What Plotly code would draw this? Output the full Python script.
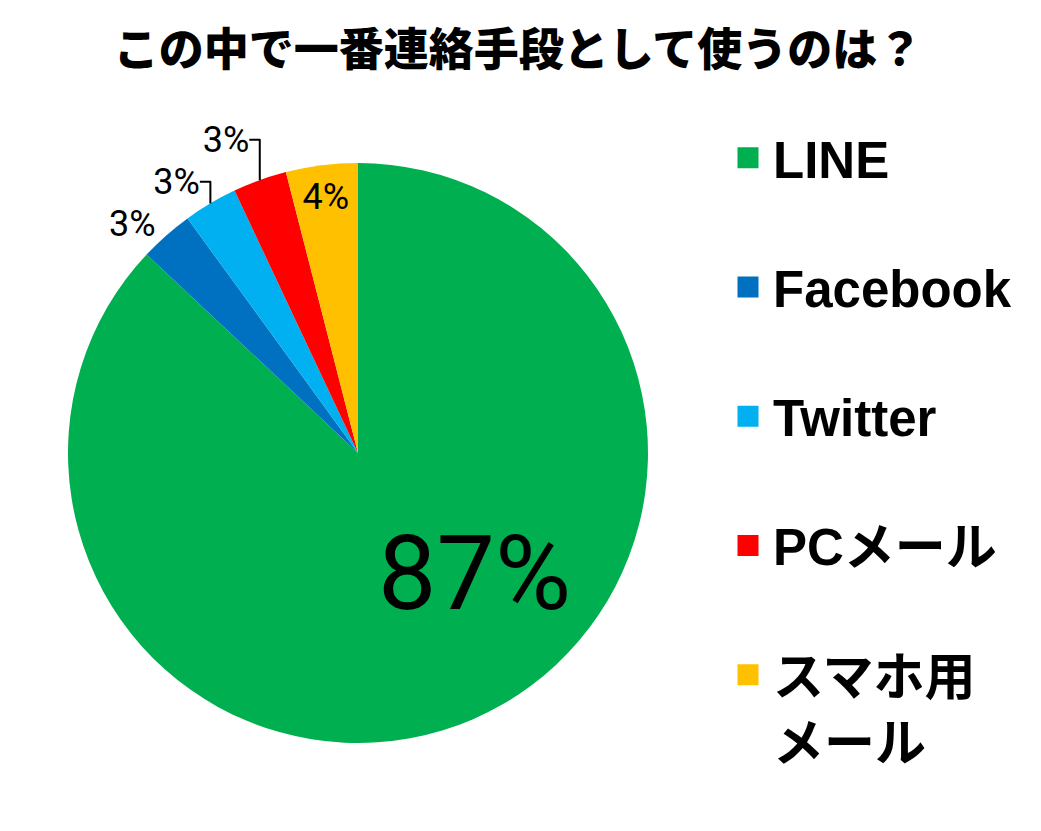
import plotly.graph_objects as go

# data
labels = ["LINE", "Facebook", "Twitter", "PCメール", "スマホ用メール"]
legend_labels = ["LINE", "Facebook", "Twitter", "PCメール", "スマホ用<br>メール"]
values = [87, 3, 3, 3, 4]
colors = ["#00B050", "#0070C0", "#00B0F0", "#FF0000", "#FFC000"]

title_text = "この中で一番連絡手段として使うのは？"

W, H = 1041, 831
OFF = 8  # page body margin of the exported html

JP = "Noto Sans CJK JP, sans-serif"
LAT = "Liberation Sans, Arial, " + JP
NUM = "Roboto, Liberation Sans, sans-serif"

pct = [round(100 * v / sum(values)) for v in values]


def px(x):
    return (x - OFF) / W


def py(y):
    return 1 - (y - OFF) / H


fig = go.Figure()

fig.add_trace(
    go.Pie(
        labels=labels,
        values=values,
        sort=False,
        direction="clockwise",
        rotation=0,
        marker=dict(colors=colors, line=dict(width=0)),
        texttemplate="%{percent:.0%}",
        textposition=["none", "outside", "outside", "outside", "inside"],
        insidetextorientation="horizontal",
        textfont=dict(family=NUM, size=36, color="black"),
        outsidetextfont=dict(family=NUM, size=36, color="black"),
        domain=dict(x=[px(68), px(648)], y=[py(743), py(163)]),
        showlegend=False,
        hoverinfo="label+percent",
    )
)

# big label of the main slice
fig.add_annotation(
    text=f"{pct[0]}%",
    x=px(474),
    y=py(573),
    xref="paper",
    yref="paper",
    xanchor="center",
    yanchor="middle",
    showarrow=False,
    font=dict(family=NUM, size=104, color="black"),
)

# legend entries (one trace each so the rows can be spaced out)
for name, col in zip(legend_labels, colors):
    fig.add_trace(
        go.Scatter(
            x=[None],
            y=[None],
            mode="markers",
            name=name,
            legendgroup=name,
            marker=dict(symbol="square", size=16, color=col, line=dict(color=col, width=5)),
            hoverinfo="skip",
        )
    )

fig.update_layout(
    width=W,
    height=H,
    margin=dict(l=0, r=0, t=0, b=0),
    paper_bgcolor="white",
    plot_bgcolor="white",
    xaxis=dict(visible=False),
    yaxis=dict(visible=False),
    title=dict(
        text=title_text,
        x=px(518),
        xanchor="center",
        y=py(50),
        yanchor="middle",
        font=dict(family=JP, size=45, color="black", weight=900),
    ),
    legend=dict(
        x=px(723),
        xanchor="left",
        y=py(118),
        yanchor="top",
        valign="top",
        itemwidth=40,
        tracegroupgap=60,
        font=dict(family=LAT, size=51, color="black", weight="bold"),
        traceorder="grouped",
    ),
)

fig.write_html("out.html")
